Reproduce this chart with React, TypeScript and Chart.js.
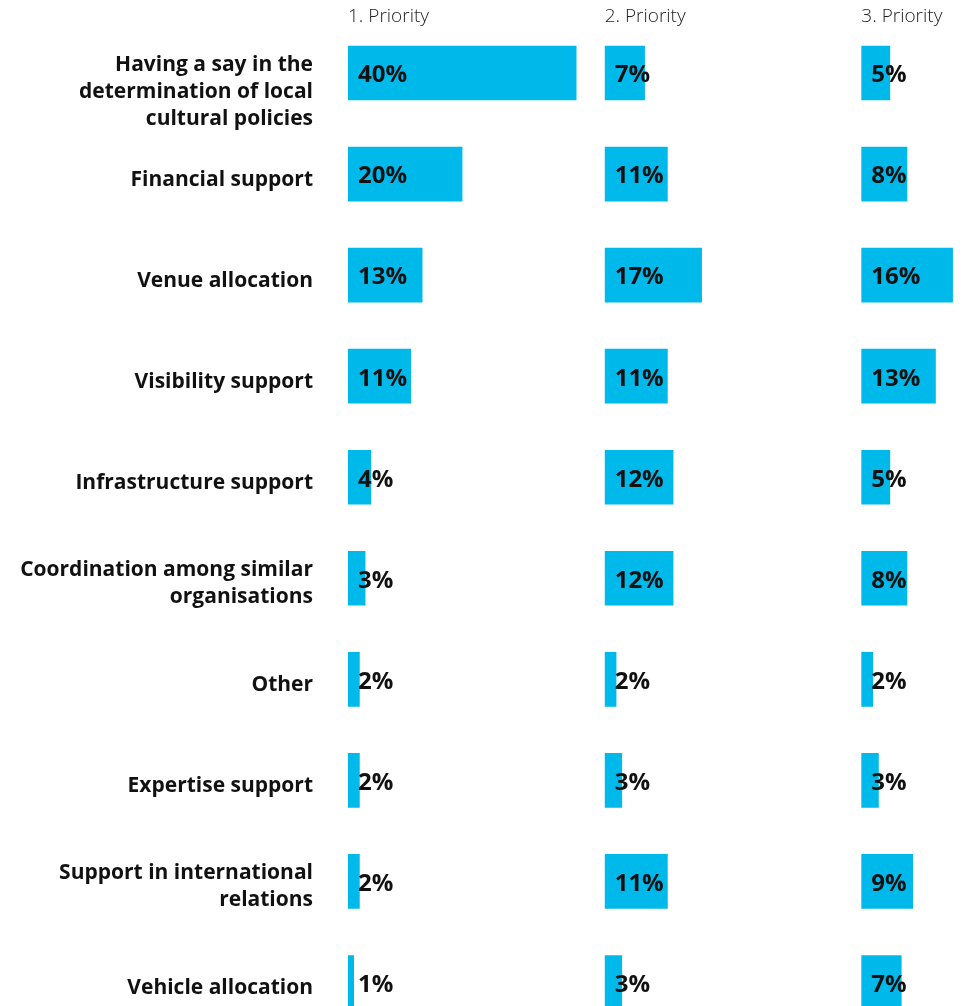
import React, { useEffect, useRef } from "react";
import { Chart, registerables } from "chart.js";

Chart.register(...registerables);

const categories: (string | string[])[] = [
  ["", "Having a say in the", "determination of local", "cultural policies"],
  "Financial support",
  "Venue allocation",
  "Visibility support",
  "Infrastructure support",
  ["Coordination among similar", "organisations"],
  "Other",
  "Expertise support",
  ["Support in international", "relations"],
  "Vehicle allocation",
];

const priorityTitles = ["1. Priority", "2. Priority", "3. Priority"];

const priority1 = [40, 20, 13, 11, 4, 3, 2, 2, 2, 1];
const priority2 = [7, 11, 17, 11, 12, 12, 2, 3, 11, 3];
const priority3 = [5, 8, 16, 13, 5, 8, 2, 3, 9, 7];

const BAR_COLOR = "#00b9eb";
const FONT = "'Open Sans', 'Noto Sans', sans-serif";

const valueLabels = {
  id: "valueLabels",
  afterDatasetsDraw(chart: any) {
    const ctx = chart.ctx;
    ctx.save();
    ctx.font = `700 24px ${FONT}`;
    ctx.fillStyle = "#111111";
    ctx.textAlign = "left";
    ctx.textBaseline = "middle";
    chart.data.datasets.forEach((ds: any, di: number) => {
      const meta = chart.getDatasetMeta(di);
      meta.data.forEach((el: any, i: number) => {
        ctx.fillText(`${ds.data[i]}%`, el.base + 10, el.y + 2.5);
      });
    });
    ctx.restore();
  },
};

export default function App() {
  const ref = useRef<HTMLCanvasElement>(null);

  useEffect(() => {
    if (!ref.current) return;
    const series = [priority1, priority2, priority3];
    const xScale = (title: string) => ({
      type: "linear",
      position: "top",
      stack: "priority",
      stackWeight: 1,
      min: 0,
      max: 45,
      ticks: { display: false },
      grid: { display: false },
      border: { display: false },
      title: {
        display: true,
        text: title,
        align: "start",
        color: "#222222",
        font: { family: FONT, size: 19, weight: "300" },
        padding: { top: 5, bottom: 0 },
      },
      afterFit: (s: any) => {
        s.height = 22.5;
        s.paddingLeft = 0;
        s.paddingRight = 0;
      },
    });
    const chart = new Chart(ref.current, {
      type: "bar",
      data: {
        labels: categories,
        datasets: series.map((d, i) => ({
          label: priorityTitles[i],
          data: d,
          xAxisID: `x${i + 1}`,
          yAxisID: "y",
          backgroundColor: BAR_COLOR,
          barThickness: 54,
          grouped: false,
        })),
      },
      options: {
        indexAxis: "y",
        responsive: false,
        animation: false,
        layout: { padding: 0 },
        plugins: {
          legend: { display: false },
          tooltip: { enabled: false },
        },
        scales: {
          x3: xScale(priorityTitles[2]),
          x2: xScale(priorityTitles[1]),
          x1: xScale(priorityTitles[0]),
          y: {
            type: "category",
            position: "left",
            grid: { display: false, drawTicks: false },
            border: { display: false },
            ticks: {
              autoSkip: false,
              color: "#111111",
              padding: 35,
              labelOffset: 5.5,
              font: { family: FONT, size: 21, weight: "700", lineHeight: 1.29 },
            },
            afterFit: (s: any) => {
              s.width = 348;
              s.paddingTop = 0;
              s.paddingBottom = 0;
            },
          },
        },
      } as any,
      plugins: [valueLabels],
    });
    return () => chart.destroy();
  }, []);

  return (
    <div
      style={{
        position: "fixed",
        left: 0,
        top: 0,
        width: 962,
        height: 1006,
        overflow: "hidden",
        background: "#ffffff",
      }}
    >
      <canvas ref={ref} width={1118} height={1033} style={{ display: "block" }} />
    </div>
  );
}
